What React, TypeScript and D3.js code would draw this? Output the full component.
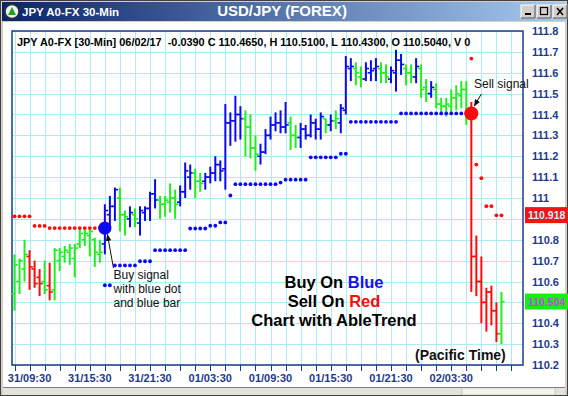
import React from 'react';
import * as d3 from 'd3';

const W = 568;
const H = 396;

// AbleTrend colour of each 30-min bar: b = up trend, r = down trend, g = neutral
const barTrend = [
  'g', 'g', 'g', 'r', 'r', 'r', 'g', 'r', 'g', 'g',
  'g', 'g', 'g', 'g', 'g', 'g', 'g', 'g', 'b', 'b',
  'b', 'g', 'g', 'b', 'g', 'b', 'b', 'b', 'b', 'g',
  'g', 'g', 'g', 'b', 'b', 'b', 'g', 'g', 'b', 'b',
  'b', 'b', 'b', 'b', 'b', 'b', 'g', 'g', 'g', 'b',
  'b', 'b', 'b', 'b', 'b', 'g', 'g', 'b', 'b', 'b',
  'b', 'b', 'g', 'b', 'g', 'b', 'b', 'b', 'g', 'g',
  'b', 'b', 'b', 'g', 'g', 'b', 'b', 'b', 'g', 'g',
  'b', 'g', 'g', 'b', 'g', 'g', 'g', 'g', 'g', 'g',
  'g', 'r', 'r', 'r', 'r', 'r', 'r', 'g',
];

const barOpen = [
  110.54, 110.60, 110.66, 110.72, 110.66, 110.62, 110.60, 110.58, 110.56, 110.70,
  110.72, 110.74, 110.71, 110.78, 110.80, 110.82, 110.80, 110.73, 110.78, 110.92,
  110.96, 111.00, 110.92, 110.90, 110.92, 110.88, 110.93, 110.95, 111.02, 110.99,
  110.97, 110.98, 111.00, 110.98, 111.03, 111.10, 111.12, 111.08, 111.08, 111.10,
  111.12, 111.16, 111.14, 111.36, 111.37, 111.40, 111.38, 111.34, 111.24, 111.20,
  111.22, 111.30, 111.35, 111.36, 111.34, 111.36, 111.30, 111.29, 111.33, 111.30,
  111.36, 111.33, 111.38, 111.35, 111.37, 111.36, 111.42, 111.62, 111.62, 111.58,
  111.57, 111.60, 111.62, 111.62, 111.60, 111.57, 111.60, 111.66, 111.62, 111.60,
  111.58, 111.62, 111.53, 111.50, 111.52, 111.45, 111.44, 111.44, 111.48, 111.49,
  111.52, 111.41, 110.72, 110.60, 110.50, 110.55, 110.46, 110.35,
];

const barHigh = [
  110.73, 110.71, 110.80, 110.75, 110.70, 110.66, 110.70, 110.69, 110.76, 110.76,
  110.77, 110.78, 110.78, 110.85, 110.85, 110.85, 110.81, 110.80, 110.97, 111.01,
  111.05, 111.05, 110.94, 110.96, 110.95, 110.96, 110.96, 111.03, 111.09, 111.01,
  111.01, 111.07, 111.04, 111.06, 111.17, 111.16, 111.14, 111.12, 111.12, 111.15,
  111.20, 111.18, 111.45, 111.41, 111.49, 111.44, 111.42, 111.40, 111.30, 111.26,
  111.33, 111.39, 111.41, 111.42, 111.46, 111.39, 111.35, 111.36, 111.35, 111.40,
  111.38, 111.41, 111.38, 111.40, 111.42, 111.45, 111.68, 111.67, 111.65, 111.63,
  111.65, 111.66, 111.67, 111.65, 111.64, 111.63, 111.71, 111.69, 111.64, 111.64,
  111.67, 111.64, 111.57, 111.56, 111.55, 111.48, 111.48, 111.52, 111.54, 111.56,
  111.56, 111.46, 110.82, 110.72, 110.57, 110.58, 110.50, 110.55,
];

const barLow = [
  110.46, 110.54, 110.60, 110.56, 110.57, 110.53, 110.54, 110.51, 110.51, 110.65,
  110.69, 110.68, 110.62, 110.76, 110.77, 110.72, 110.67, 110.69, 110.73, 110.86,
  110.89, 110.84, 110.82, 110.86, 110.86, 110.82, 110.89, 110.89, 110.95, 110.90,
  110.91, 110.93, 110.90, 110.96, 111.00, 111.04, 111.00, 111.03, 111.04, 111.07,
  111.08, 111.08, 111.04, 111.25, 111.27, 111.28, 111.20, 111.19, 111.13, 111.16,
  111.21, 111.28, 111.32, 111.31, 111.31, 111.23, 111.24, 111.24, 111.28, 111.29,
  111.28, 111.28, 111.31, 111.32, 111.33, 111.31, 111.40, 111.56, 111.54, 111.53,
  111.56, 111.56, 111.56, 111.55, 111.55, 111.55, 111.51, 111.59, 111.54, 111.55,
  111.55, 111.48, 111.46, 111.48, 111.43, 111.41, 111.39, 111.40, 111.42, 111.43,
  111.35, 110.55, 110.53, 110.40, 110.36, 110.39, 110.31, 110.30,
];

const barClose = [
  110.68, 110.70, 110.73, 110.67, 110.59, 110.59, 110.56, 110.55, 110.75, 110.74,
  110.75, 110.76, 110.76, 110.83, 110.83, 110.84, 110.74, 110.74, 110.94, 110.96,
  111.04, 110.92, 110.91, 110.93, 110.90, 110.94, 110.95, 111.02, 110.99, 110.97,
  110.99, 111.00, 110.97, 111.03, 111.13, 111.12, 111.08, 111.07, 111.10, 111.12,
  111.16, 111.13, 111.36, 111.37, 111.40, 111.38, 111.34, 111.24, 111.21, 111.22,
  111.30, 111.35, 111.36, 111.34, 111.35, 111.30, 111.29, 111.33, 111.30, 111.36,
  111.33, 111.39, 111.35, 111.37, 111.38, 111.43, 111.63, 111.63, 111.60, 111.57,
  111.62, 111.61, 111.63, 111.60, 111.58, 111.61, 111.66, 111.64, 111.60, 111.58,
  111.63, 111.52, 111.50, 111.53, 111.45, 111.44, 111.45, 111.48, 111.50, 111.52,
  111.40, 110.72, 110.60, 110.50, 110.55, 110.46, 110.35, 110.504,
];

// AbleTrend stop dots, one per bar (r = above price, b = below price)
const stopLevel = [
  110.912, 110.912, 110.912, 110.912, 110.866, 110.866, 110.866, 110.856, 110.856, 110.856,
  110.856, 110.856, 110.856, 110.856, 110.856, 110.856, 110.856, 110.856, 110.582, 110.582,
  110.677, 110.677, 110.677, 110.677, 110.677, 110.697, 110.697, 110.697, 110.750, 110.750,
  110.750, 110.750, 110.750, 110.750, 110.750, 110.854, 110.854, 110.854, 110.854, 110.867,
  110.867, 110.883, 110.883, 111.012, 111.066, 111.066, 111.066, 111.066, 111.066, 111.066,
  111.066, 111.066, 111.066, 111.074, 111.088, 111.088, 111.088, 111.088, 111.088, 111.195,
  111.195, 111.195, 111.195, 111.195, 111.195, 111.212, 111.212, 111.365, 111.365, 111.365,
  111.365, 111.365, 111.365, 111.365, 111.365, 111.365, 111.365, 111.405, 111.405, 111.405,
  111.405, 111.405, 111.405, 111.405, 111.405, 111.405, 111.405, 111.405, 111.405, 111.405,
  111.405, 111.668, 111.160, 111.095, 110.961, 110.961, 110.917, 110.917,
];
const stopSide = [
  'r', 'r', 'r', 'r', 'r', 'r', 'r', 'r', 'r', 'r',
  'r', 'r', 'r', 'r', 'r', 'r', 'r', 'r', 'b', 'b',
  'b', 'b', 'b', 'b', 'b', 'b', 'b', 'b', 'b', 'b',
  'b', 'b', 'b', 'b', 'b', 'b', 'b', 'b', 'b', 'b',
  'b', 'b', 'b', 'b', 'b', 'b', 'b', 'b', 'b', 'b',
  'b', 'b', 'b', 'b', 'b', 'b', 'b', 'b', 'b', 'b',
  'b', 'b', 'b', 'b', 'b', 'b', 'b', 'b', 'b', 'b',
  'b', 'b', 'b', 'b', 'b', 'b', 'b', 'b', 'b', 'b',
  'b', 'b', 'b', 'b', 'b', 'b', 'b', 'b', 'b', 'b',
  'b', 'r', 'r', 'r', 'r', 'r', 'r', 'r',
];

// signals: bar index and price of the big dot
const buySignal = { bar: 18, price: 110.856 };
const sellSignal = { bar: 91, price: 111.405 };

const lastPrice = 110.504;
const stopPrice = 110.918;

const yTickValues = [111.8, 111.7, 111.6, 111.5, 111.4, 111.3, 111.2, 111.1, 111.0, 110.9, 110.8, 110.7, 110.6, 110.5, 110.4, 110.3, 110.2];
const yTickLabels = ['111.8', '111.7', '111.6', '111.5', '111.4', '111.3', '111.2', '111.1', '111', '110.9', '110.8', '110.7', '110.6', '110.5', '110.4', '110.3', '110.2'];
const xLabelBars = [3, 15, 27, 39, 51, 63, 75, 87];
const xLabels = ['31/09:30', '31/15:30', '31/21:30', '01/03:30', '01/09:30', '01/15:30', '01/21:30', '02/03:30'];

const header = 'JPY A0-FX [30-Min] 06/02/17  -0.0390 C 110.4650, H 110.5100, L 110.4300, O 110.5040, V 0';

const colors: Record<string, string> = { g: '#1ef01e', b: '#0a0af2', r: '#ff0a0a' };
const FONT = '"Liberation Sans", Arial, sans-serif';
const AXIS = '#1c3a8e';

export default function App() {
  const left = 12, right = 523, top = 31, bottom = 365;
  const x = d3.scaleLinear().domain([0, 97]).range([14.5, 14.5 + 97 * 5.02]);
  const y = d3.scaleLinear().domain([110.2, 111.8]).range([bottom, top]);

  const gridBars = d3.range(0, 100, 3).filter((i) => x(i) < right);

  const bx = x(buySignal.bar), by = y(buySignal.price);
  const sx = x(sellSignal.bar), sy = y(sellSignal.price);

  // price boxes hide the axis labels under them
  const hidden = (v: number) => Math.abs(v - stopPrice) < 0.04 || Math.abs(v - lastPrice) < 0.04;

  return (
    <div style={{ position: 'absolute', left: 0, top: 0 }}>
      <svg width={W} height={H} style={{ display: 'block' }}>
        <defs>
          <linearGradient id="tbar" x1="0" x2="1" y1="0" y2="0">
            <stop offset="0" stopColor="#0a246a" />
            <stop offset="1" stopColor="#a6caf0" />
          </linearGradient>
          <marker id="arr" viewBox="0 0 10 10" refX="9" refY="5" markerWidth="7" markerHeight="7" orient="auto">
            <path d="M0,1 L10,5 L0,9 z" fill="#111" />
          </marker>
        </defs>

        {/* window */}
        <rect x={0} y={0} width={W} height={H} fill="#d4d0c8" />
        <rect x={0.5} y={0.5} width={W - 1} height={H - 1} fill="none" stroke="#404040" />
        <rect x={2} y={2} width={W - 4} height={19} fill="url(#tbar)" />
        <rect x={3} y={22} width={W - 6} height={365} fill="#fff" />
        <line x1={3} x2={W - 3} y1={387.5} y2={387.5} stroke="#808080" />
        <rect x={3} y={388} width={W - 6} height={7} fill="#e4e2dc" />
        <rect x={462} y={388} width={93} height={7} fill="#f4f3ef" stroke="#a0a0a0" strokeWidth={0.5} />

        {/* title bar */}
        <circle cx={12} cy={11.5} r={7} fill="#f0f0f0" stroke="#303030" strokeWidth={1.5} />
        <path d="M8,15 L12,7 L16,15 z" fill="#20a020" />
        <text x={22} y={16} fill="#fff" fontFamily={FONT} fontWeight="bold" fontSize={11.5}>JPY A0-FX 30-Min</text>
        <text x={282} y={16} fill="#fff" fontFamily={FONT} fontWeight="bold" fontSize={15} textAnchor="middle">USD/JPY (FOREX)</text>
        {[521, 537, 553].map((bx0, k) => (
          <g key={k}>
            <rect x={bx0} y={5} width={14} height={13} fill="#d4d0c8" stroke="#fff" strokeWidth={1} />
            <path d={`M${bx0 + 14},5 V18 H${bx0}`} fill="none" stroke="#404040" />
            {k === 0 && <rect x={bx0 + 4} y={13} width={6} height={2} fill="#000" />}
            {k === 1 && <rect x={bx0 + 3.5} y={7.5} width={7} height={7} fill="none" stroke="#000" strokeWidth={1.2} />}
            {k === 2 && <path d={`M${bx0 + 4},8 L${bx0 + 10},15 M${bx0 + 10},8 L${bx0 + 4},15`} stroke="#000" strokeWidth={1.6} />}
          </g>
        ))}

        {/* grid */}
        <g stroke="#a8eef2" strokeWidth={1}>
          {yTickValues.map((v) => (
            <line key={v} x1={left} x2={right} y1={Math.round(y(v)) + 0.5} y2={Math.round(y(v)) + 0.5} />
          ))}
          {gridBars.map((i) => (
            <line key={i} x1={Math.round(x(i)) + 0.5} x2={Math.round(x(i)) + 0.5} y1={top} y2={bottom} />
          ))}
        </g>
        <rect x={left} y={top} width={right - left} height={bottom - top} fill="none" stroke="#1c3a8e" strokeWidth={1.5} />
        <g stroke="#1c3a8e" strokeWidth={1}>
          {gridBars.map((i) => (
            <line key={i} x1={Math.round(x(i)) + 0.5} x2={Math.round(x(i)) + 0.5} y1={bottom} y2={bottom + 6} />
          ))}
        </g>

        {/* header */}
        <text x={17} y={46} fontFamily={FONT} fontWeight="bold" fontSize={10.9} fill="#000" style={{ whiteSpace: 'pre' }}>{header}</text>

        {/* OHLC bars */}
        {barHigh.map((h, i) => {
          const cx = x(i);
          const c = colors[barTrend[i]];
          return (
            <g key={i} stroke={c}>
              <line x1={cx} x2={cx} y1={y(h)} y2={y(barLow[i])} strokeWidth={2} />
              <line x1={cx - 3.2} x2={cx} y1={y(barOpen[i])} y2={y(barOpen[i])} strokeWidth={1.6} />
              <line x1={cx} x2={cx + 3.2} y1={y(barClose[i])} y2={y(barClose[i])} strokeWidth={1.6} />
            </g>
          );
        })}

        {/* stop dots */}
        {stopLevel.map((v, i) => (
          <circle key={i} cx={x(i)} cy={y(v)} r={1.9} fill={colors[stopSide[i]]} />
        ))}

        {/* signal dots */}
        <circle cx={bx} cy={by} r={6.6} fill="#0a0af2" />
        <circle cx={sx} cy={sy} r={7} fill="#ff0a0a" />

        {/* annotations */}
        <line x1={bx + 8.6} y1={by + 40} x2={bx + 2.6} y2={by + 6.6} stroke="#111" strokeWidth={1} markerEnd="url(#arr)" />
        <g fontFamily={FONT} fontSize={12} fill="#111">
          <text x={113.5} y={279}>Buy signal</text>
          <text x={113.5} y={293}>with blue dot</text>
          <text x={113.5} y={307}>and blue bar</text>
          <text x={474} y={87.5}>Sell signal</text>
        </g>
        <line x1={sx + 10} y1={sy - 19.5} x2={sx + 3} y2={sy - 7.5} stroke="#111" strokeWidth={1} markerEnd="url(#arr)" />

        <g fontFamily={FONT} fontWeight="bold" fontSize={16.5} textAnchor="middle" fill="#000">
          <text x={334} y={287.5}>Buy On <tspan fill="#1414f0">Blue</tspan></text>
          <text x={334} y={306.5}>Sell On <tspan fill="#ff0a0a">Red</tspan></text>
          <text x={334} y={325.5}>Chart with AbleTrend</text>
        </g>
        <text x={415} y={360} fontFamily={FONT} fontWeight="bold" fontSize={14} fill="#111">(Pacific Time)</text>

        {/* axis labels */}
        <g fontFamily={FONT} fontWeight="bold" fontSize={11} fill={AXIS}>
          {yTickValues.map((v, k) => (hidden(v) ? null : (
            <text key={v} x={532} y={y(v) + 4}>{yTickLabels[k]}</text>
          )))}
          {xLabelBars.map((b, k) => (
            <text key={b} x={x(b)} y={382} textAnchor="middle">{xLabels[k]}</text>
          ))}
        </g>

        {/* price boxes */}
        <rect x={525} y={y(stopPrice) - 8} width={43} height={16} fill="#f01414" />
        <text x={528} y={y(stopPrice) + 4} fontFamily={FONT} fontWeight="bold" fontSize={10.5} fill="#b8f4ff">{stopPrice.toFixed(3)}</text>
        <rect x={525} y={y(lastPrice) - 8} width={43} height={16} fill="#14f014" />
        <text x={528} y={y(lastPrice) + 4} fontFamily={FONT} fontWeight="bold" fontSize={10.5} fill="#d040e0">{lastPrice.toFixed(3)}</text>
      </svg>
    </div>
  );
}
